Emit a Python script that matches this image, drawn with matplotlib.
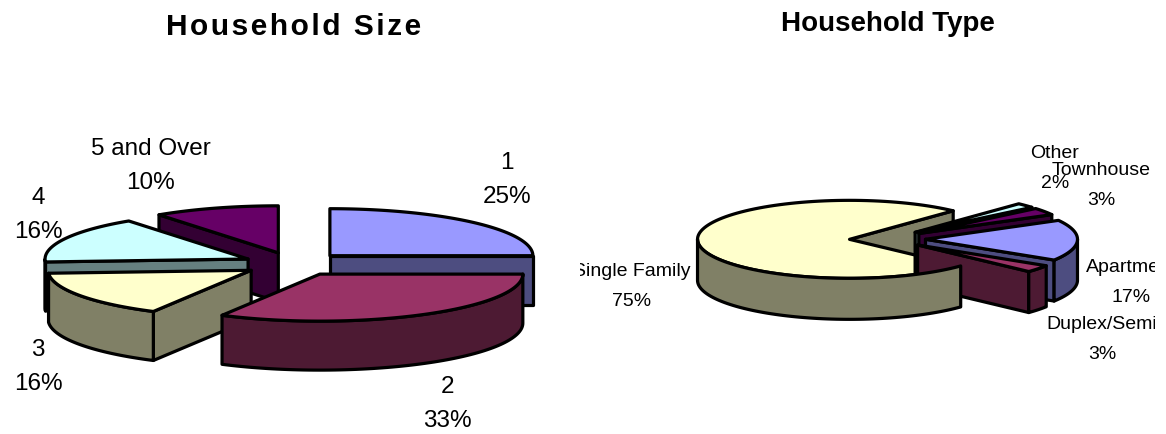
import numpy as np
import matplotlib
matplotlib.use("Agg")
import matplotlib.pyplot as plt
from matplotlib.patches import Polygon
from matplotlib.transforms import Bbox

plt.rcParams['font.family'] = ['Liberation Sans', 'DejaVu Sans']

# 住户规模
size_labels = ["1", "2", "3", "4", "5 and Over"]
size_values = [25, 33, 16, 16, 10]
size_label_pos = [(507, 180), (447, 404), (38, 367), (38, 215), (151, 166)]

# 住户类型
type_labels = ["Apartment", "Duplex/Semi", "Single Family", "Other", "Townhouse"]
type_values = [17, 3, 75, 2, 3]
type_label_pos = [(1131, 283), (1102, 340), (632, 287), (1055, 169), (1101, 186)]

top_colors = ["#9999FF", "#993366", "#FFFFCC", "#CCFFFF", "#660066"]
side_colors = ["#4D4D80", "#4D1A33", "#808066", "#668080", "#330033"]

EDGE_W = 2.3


def point(cx, cy, rx, ry, angle):
    """角度从12点方向顺时针计算"""
    rad = np.radians(angle)
    return cx + rx * np.sin(rad), cy - ry * np.cos(rad)


def add_poly(ax, xs, ys, color):
    ax.add_patch(Polygon(np.column_stack([xs, ys]), closed=True, facecolor=color,
                         edgecolor="black", linewidth=EDGE_W, joinstyle="round"))


def draw_radial_face(ax, vx, vy, rx, ry, depth, angle, color):
    ox, oy = point(vx, vy, rx, ry, angle)
    add_poly(ax, [vx, ox, ox, vx], [vy, oy, oy + depth, vy + depth], color)


def draw_wall(ax, vx, vy, rx, ry, depth, a0, a1, color):
    # 只有朝前的半圈 (90~270) 才能看到外壁
    lo, hi = max(a0, 90), min(a1, 270)
    if hi <= lo:
        return
    t = np.linspace(lo, hi, 80)
    xs, ys = point(vx, vy, rx, ry, t)
    add_poly(ax, np.r_[xs, xs[::-1]], np.r_[ys, ys[::-1] + depth], color)


def draw_top(ax, vx, vy, rx, ry, a0, a1, color):
    t = np.linspace(a0, a1, 120)
    xs, ys = point(vx, vy, rx, ry, t)
    add_poly(ax, np.r_[vx, xs], np.r_[vy, ys], color)


def draw_pie3d(ax, values, center, rx, ry, depth, start, order, explode=0.25, wall_last=None):
    """画分离式三维饼图，order 是绘制的先后顺序"""
    cx, cy = center
    total = sum(values)
    edges = start + np.r_[0, np.cumsum(values)] * 360.0 / total

    for i in order:
        a0, a1 = edges[i], edges[i + 1]
        mid = (a0 + a1) / 2
        vx, vy = point(cx, cy, explode * rx, explode * ry, mid)

        # 切面法线朝向观察者时才画
        if np.cos(np.radians(a0 - 90)) < -1e-6:
            draw_radial_face(ax, vx, vy, rx, ry, depth, a0, side_colors[i])
        if np.cos(np.radians(a1 + 90)) < -1e-6:
            draw_radial_face(ax, vx, vy, rx, ry, depth, a1, side_colors[i])
        if i != wall_last:
            draw_wall(ax, vx, vy, rx, ry, depth, a0, a1, side_colors[i])
        draw_top(ax, vx, vy, rx, ry, a0, a1, top_colors[i])

    # 外壁压在其他扇区上面
    if wall_last is not None:
        a0, a1 = edges[wall_last], edges[wall_last + 1]
        vx, vy = point(cx, cy, explode * rx, explode * ry, (a0 + a1) / 2)
        draw_wall(ax, vx, vy, rx, ry, depth, a0, a1, side_colors[wall_last])


def add_labels(ax, labels, values, positions, fontsize, linespacing, clip=None):
    for name, val, (x, y) in zip(labels, values, positions):
        txt = ax.text(x, y, f"{name}\n{val}%", ha="center", va="center",
                      multialignment="center", fontsize=fontsize,
                      linespacing=linespacing, color="black")
        if clip is not None:
            txt.set_clip_box(Bbox([[clip[0], 0], [clip[1], 435]]))
            txt.set_clip_on(True)


fig = plt.figure(figsize=(11.66, 4.35), dpi=100)
ax = fig.add_axes([0, 0, 1, 1])
ax.set_xlim(0, 1166)
ax.set_ylim(435, 0)
ax.axis("off")

draw_pie3d(ax, size_values, (294, 265), 203, 47, 49, 0, [4, 0, 3, 2, 1])
draw_pie3d(ax, type_values, (887.5, 240), 152, 39, 41, 61, [2, 3, 4, 0, 1], wall_last=2)

add_labels(ax, size_labels, size_values, size_label_pos, 17.5, 1.72)
add_labels(ax, type_labels, type_values, type_label_pos, 14, 2.0, clip=(580, 1155))

ax.text(294, 27, "\u200a".join("Household Size"), ha="center", va="center",
        fontsize=21.5, fontweight="bold")
ax.text(888, 24, "Household Type", ha="center", va="center",
        fontsize=20, fontweight="bold")

fig.savefig("out.png", dpi=100)
